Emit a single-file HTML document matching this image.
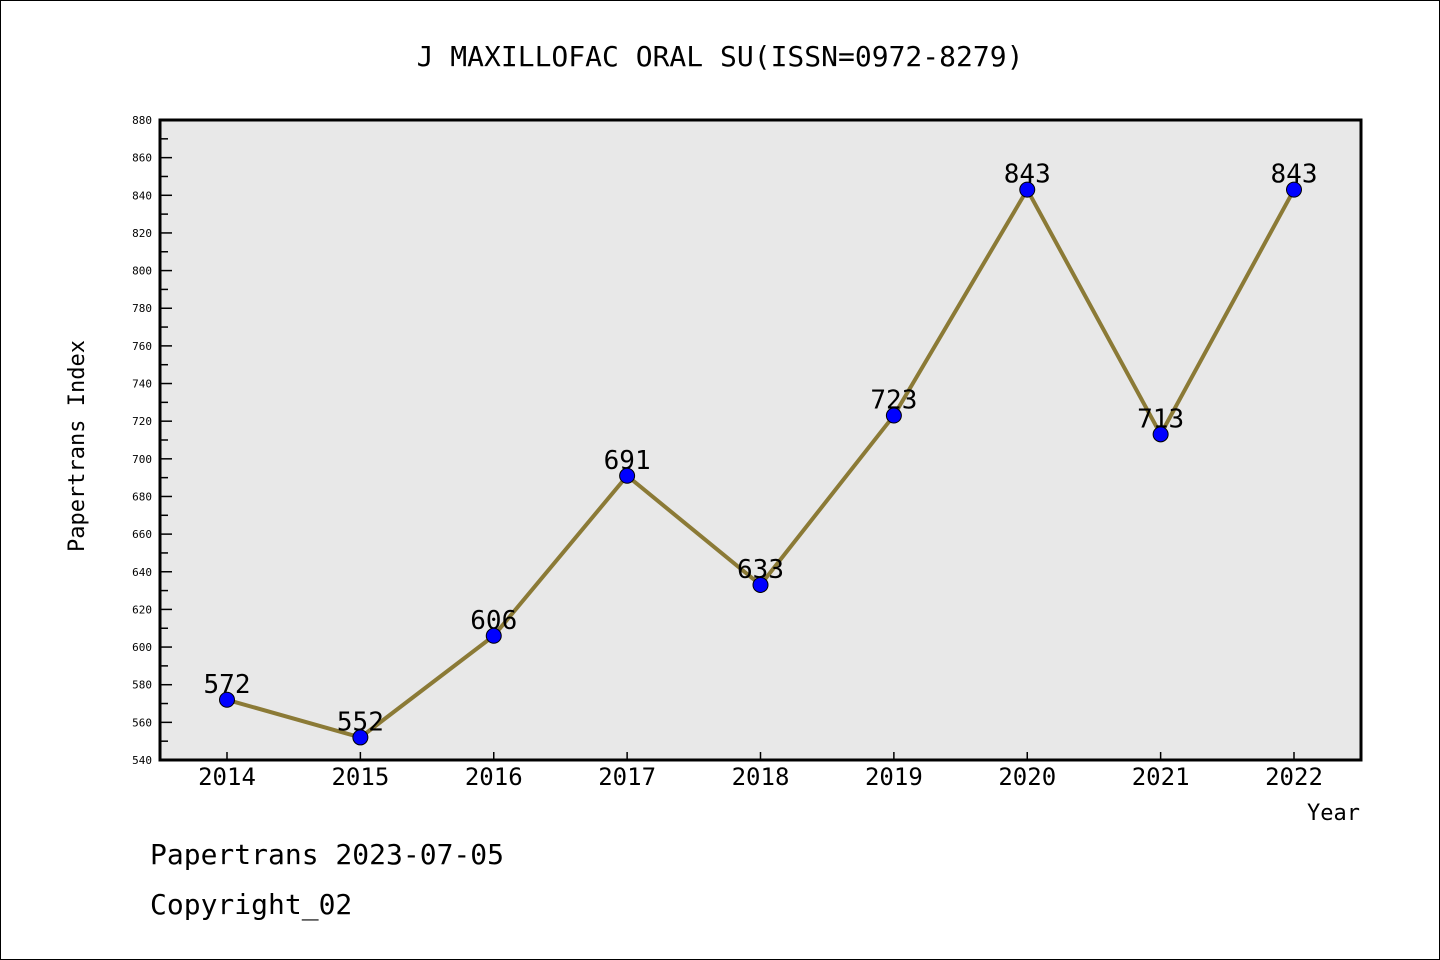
<!DOCTYPE html>
<html><head><meta charset="utf-8"><style>
body{margin:0;background:#fff}
svg{display:block}
text{font-family:"DejaVu Sans Mono","Liberation Mono",monospace;fill:#000}
</style></head><body>
<svg width="1440" height="960" viewBox="0 0 1440 960">
<rect x="0.5" y="0.5" width="1439" height="959" fill="#fff" stroke="#000"/>
<text x="720" y="66" font-size="28" text-anchor="middle">J MAXILLOFAC ORAL SU(ISSN=0972-8279)</text>
<rect x="160" y="120" width="1201" height="640" fill="#e8e8e8"/>
<g id="ticks"></g>
<g id="series"></g>
<rect x="160" y="120" width="1201" height="640" fill="none" stroke="#000" stroke-width="3"/>
<text transform="translate(84,446) rotate(-90)" font-size="22" text-anchor="middle">Papertrans Index</text>
<text x="1360" y="820" font-size="22" text-anchor="end">Year</text>
<text x="150" y="864" font-size="28">Papertrans 2023-07-05</text>
<text x="150" y="914" font-size="28">Copyright_02</text>
</svg>
<script>
const years=["2014","2015","2016","2017","2018","2019","2020","2021","2022"];
const values=[572,552,606,691,633,723,843,713,843];
const yTicks=[540,560,580,600,620,640,660,680,700,720,740,760,780,800,820,840,860,880];
const NS="http://www.w3.org/2000/svg";
function X(i){return 227+i*(1294-227)/8;}
function Y(v){return 760-(v-540)*640/340;}
function mk(t,a,p){const e=document.createElementNS(NS,t);for(const k in a)e.setAttribute(k,a[k]);p.appendChild(e);return e;}
const tg=document.getElementById('ticks'),sg=document.getElementById('series');
yTicks.forEach(v=>{
 const l=mk('line',{x1:160,x2:172,y1:Y(v),y2:Y(v),stroke:'#000','stroke-width':1.5},tg);
 
 
 const t=mk('text',{x:152,y:Y(v)+4,'font-size':11,'text-anchor':'end'},tg);t.textContent=v;
 
 
});
for(let i=0;i<yTicks.length-1;i++){const v=(yTicks[i]+yTicks[i+1])/2;
 const l=mk('line',{x1:160,x2:168,y1:Y(v),y2:Y(v),stroke:'#000','stroke-width':1.5},tg);
 
 }
years.forEach((y,i)=>{
 const l=mk('line',{x1:X(i),x2:X(i),y1:760,y2:752,stroke:'#000','stroke-width':1.5},tg);
 
 
 const t=mk('text',{x:X(i),y:785,'font-size':24,'text-anchor':'middle'},tg);t.textContent=y;
 
 
});
const pl=mk('polyline',{points:values.map((v,i)=>X(i)+','+Y(v)).join(' '),fill:'none',stroke:'#8b7a36','stroke-width':4},sg);


values.forEach((v,i)=>{
 const t=mk('text',{x:X(i),y:Y(v)-7,'font-size':26,'text-anchor':'middle'},sg);t.textContent=v;
 
 
});
values.forEach((v,i)=>{
 const c=mk('circle',{cx:X(i),cy:Y(v),r:7.5,fill:'#0000ff',stroke:'#000','stroke-width':1},sg);
 
 
});
</script>
</body></html>
